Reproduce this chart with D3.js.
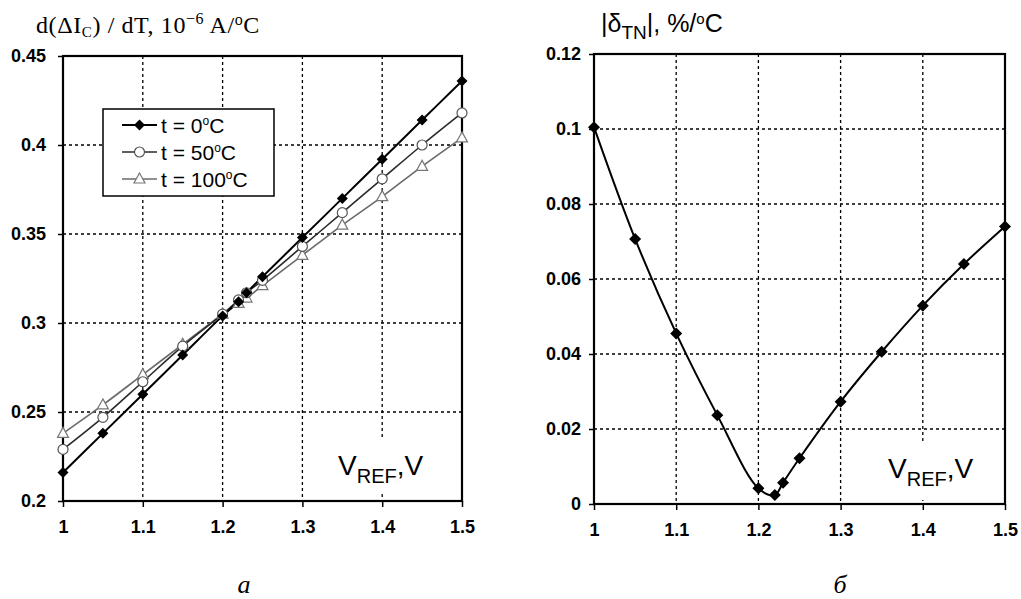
<!DOCTYPE html>
<html>
<head>
<meta charset="utf-8">
<script src="https://cdn.jsdelivr.net/npm/d3@7"></script>
<style>
  html, body { margin: 0; padding: 0; background: #fff; }
  svg { display: block; }
  .tick-label { font-family: "Liberation Sans", Arial, sans-serif; font-weight: bold; font-size: 18px; fill: #000; }
</style>
</head>
<body>
<svg id="chart" width="1021" height="599"></svg>
<script>
// Reference voltage sweep (V)
const vref = [1, 1.05, 1.1, 1.15, 1.2, 1.22, 1.23, 1.25, 1.3, 1.35, 1.4, 1.45, 1.5];
const xTicks = [1, 1.1, 1.2, 1.3, 1.4, 1.5];

// d(ΔIc)/dT, 10^-6 A/°C at three ambient temperatures
const slopeT0   = [0.216, 0.238, 0.260, 0.282, 0.304, 0.312, 0.317, 0.326, 0.348, 0.370, 0.392, 0.414, 0.436];
const slopeT50  = [0.229, 0.247, 0.267, 0.287, 0.305, 0.313, 0.317, 0.324, 0.343, 0.362, 0.381, 0.400, 0.418];
const slopeT100 = [0.238, 0.254, 0.271, 0.288, 0.305, 0.311, 0.314, 0.321, 0.338, 0.355, 0.371, 0.388, 0.404];
const leftTicks = [0.2, 0.25, 0.3, 0.35, 0.4, 0.45];
const seriesNames = ["0", "50", "100"];

// |δTN|, %/°C
const deltaTN = [0.1005, 0.0707, 0.0455, 0.0237, 0.0042, 0.0024, 0.0057, 0.0122, 0.0273, 0.0406, 0.0529, 0.0640, 0.0740];
const rightTicks = [0, 0.02, 0.04, 0.06, 0.08, 0.1, 0.12];

const svg = d3.select("#chart");
const fmt = d => String(+d.toFixed(3));

function panel(x0, x1, y0, y1, yDomain, yTickVals, labelPad) {
  const x = d3.scaleLinear().domain([1, 1.5]).range([x0, x1]);
  const y = d3.scaleLinear().domain(yDomain).range([y1, y0]);
  const g = svg.append("g");

  // dashed grid
  g.selectAll("line.vg").data(xTicks.slice(1, -1)).join("line")
    .attr("x1", d => x(d)).attr("x2", d => x(d)).attr("y1", y0).attr("y2", y1)
    .attr("stroke", "#000").attr("stroke-width", 1.3).attr("stroke-dasharray", "3,3");
  g.selectAll("line.hg").data(yTickVals.slice(1, -1)).join("line")
    .attr("x1", x0).attr("x2", x1).attr("y1", d => y(d)).attr("y2", d => y(d))
    .attr("stroke", "#000").attr("stroke-width", 1.3).attr("stroke-dasharray", "3,3");

  // axes
  const ax = g.append("g").attr("transform", `translate(0,${y1})`)
    .call(d3.axisBottom(x).tickValues(xTicks).tickSize(6).tickPadding(12).tickFormat(fmt));
  const ay = g.append("g").attr("transform", `translate(${x0},0)`)
    .call(d3.axisLeft(y).tickValues(yTickVals).tickSize(5).tickPadding(labelPad).tickFormat(fmt));
  [ax, ay].forEach(a => {
    a.select(".domain").remove();
    a.selectAll(".tick line").attr("stroke", "#000").attr("stroke-width", 1.5);
    a.selectAll(".tick text").attr("class", "tick-label").attr("font-size", null).attr("font-family", null);
  });
  ax.selectAll(".tick text").attr("dy", "0.75em");

  // frame
  g.append("rect").attr("x", x0).attr("y", y0).attr("width", x1 - x0).attr("height", y1 - y0)
    .attr("fill", "none").attr("stroke", "#000").attr("stroke-width", 2.2);

  return { x, y, g };
}

function vrefLabel(g, xRight, top, bottom) {
  g.append("rect").attr("x", xRight - 94).attr("y", top).attr("width", 94).attr("height", bottom - top).attr("fill", "#fff");
  const t = g.append("text").attr("x", xRight - 90).attr("y", top + 35)
    .attr("font-family", "Liberation Sans, Arial, sans-serif").attr("font-size", 28).attr("fill", "#000");
  t.append("tspan").text("V");
  t.append("tspan").attr("font-size", 20).attr("dy", 8).text("REF");
  t.append("tspan").attr("dy", -8).text(",V");
}

function diamond(sel, s) {
  return sel.attr("d", `M0,${-s}L${s},0L0,${s}L${-s},0Z`);
}

/* ---------- panel а ---------- */
const A = panel(63, 462, 56, 501, [0.2, 0.45], leftTicks, 12);
vrefLabel(A.g, 428, 440, 492);

const seriesA = [
  { vals: slopeT100, color: "#6a6a6a", width: 1.6, marker: "tri" },
  { vals: slopeT50,  color: "#2a2a2a", width: 1.6, marker: "circ" },
  { vals: slopeT0,   color: "#000",    width: 2.0, marker: "dia" }
];
const lineA = d3.line().x((d, i) => A.x(vref[i])).y(d => A.y(d)).curve(d3.curveCatmullRom);

function drawMarker(sel, m) {
  if (m === "dia") {
    diamond(sel.append("path"), 5.5).attr("fill", "#000");
  } else if (m === "circ") {
    sel.append("circle").attr("r", 5).attr("fill", "#fff").attr("stroke", "#555").attr("stroke-width", 1.2);
  } else {
    sel.append("path").attr("d", "M0,-6L5.5,4L-5.5,4Z").attr("fill", "#fff").attr("stroke", "#777").attr("stroke-width", 1.2);
  }
}

seriesA.forEach(s => {
  A.g.append("path").attr("d", lineA(s.vals)).attr("fill", "none")
    .attr("stroke", s.color).attr("stroke-width", s.width);
});
seriesA.forEach(s => {
  A.g.selectAll(null).data(s.vals).join("g")
    .attr("transform", (d, i) => `translate(${A.x(vref[i])},${A.y(d)})`)
    .each(function () { drawMarker(d3.select(this), s.marker); });
});

// legend
const leg = A.g.append("g");
leg.append("rect").attr("x", 103).attr("y", 109).attr("width", 171).attr("height", 87)
  .attr("fill", "#fff").attr("stroke", "#000").attr("stroke-width", 1.5);
const legItems = [
  { name: seriesNames[0], s: seriesA[2], y: 125 },
  { name: seriesNames[1], s: seriesA[1], y: 152 },
  { name: seriesNames[2], s: seriesA[0], y: 179 }
];
legItems.forEach(it => {
  leg.append("line").attr("x1", 122).attr("x2", 157).attr("y1", it.y).attr("y2", it.y)
    .attr("stroke", it.s.color).attr("stroke-width", it.s.width);
  drawMarker(leg.append("g").attr("transform", `translate(139.5,${it.y})`), it.s.marker);
  const t = leg.append("text").attr("x", 161).attr("y", it.y + 7.5)
    .attr("font-family", "Liberation Sans, Arial, sans-serif").attr("font-size", 21).attr("fill", "#000");
  t.append("tspan").text(`t = ${it.name}`);
  t.append("tspan").attr("font-size", 12).attr("dy", -8).text("o");
  t.append("tspan").attr("dy", 8).text("C");
});

// title а
const ta = svg.append("text").attr("x", 36).attr("y", 33)
  .attr("font-family", "Liberation Serif, Times New Roman, serif").attr("font-size", 24)
  .attr("letter-spacing", 0.6).attr("fill", "#000");
ta.append("tspan").text("d(ΔI");
ta.append("tspan").attr("font-size", 15).attr("dy", 4).text("C");
ta.append("tspan").attr("dy", -4).text(") / dT,  10");
ta.append("tspan").attr("font-size", 16).attr("dy", -9).text("−6");
ta.append("tspan").attr("dy", 9).text(" A/");
ta.append("tspan").attr("font-size", 16).attr("dy", -8).text("o");
ta.append("tspan").attr("dy", 8).text("C");

/* ---------- panel б ---------- */
const B = panel(594, 1005, 54, 504, [0, 0.12], rightTicks, 8);
vrefLabel(B.g, 978, 443, 500);

const lineB = d3.line().x((d, i) => B.x(vref[i])).y(d => B.y(d)).curve(d3.curveCatmullRom);
B.g.append("path").attr("d", lineB(deltaTN)).attr("fill", "none").attr("stroke", "#000").attr("stroke-width", 2);
B.g.selectAll(null).data(deltaTN).join("path")
  .attr("transform", (d, i) => `translate(${B.x(vref[i])},${B.y(d)})`)
  .call(sel => diamond(sel, 6)).attr("fill", "#000");

const tb = svg.append("text").attr("x", 601).attr("y", 32)
  .attr("font-family", "Liberation Sans, Arial, sans-serif").attr("font-size", 25).attr("fill", "#000");
tb.append("tspan").text("|δ");
tb.append("tspan").attr("font-size", 19).attr("dy", 7).text("TN");
tb.append("tspan").attr("dy", -7).text("|,  %/");
tb.append("tspan").attr("font-size", 15).attr("dy", -8).text("o");
tb.append("tspan").attr("dy", 8).text("C");

// panel captions
[["а", 244], ["б", 840]].forEach(([c, cx]) => {
  svg.append("text").attr("x", cx).attr("y", 593).attr("text-anchor", "middle")
    .attr("font-family", "Liberation Serif, Times New Roman, serif").attr("font-style", "italic")
    .attr("font-size", 26).attr("fill", "#000").text(c);
});
</script>
</body>
</html>
